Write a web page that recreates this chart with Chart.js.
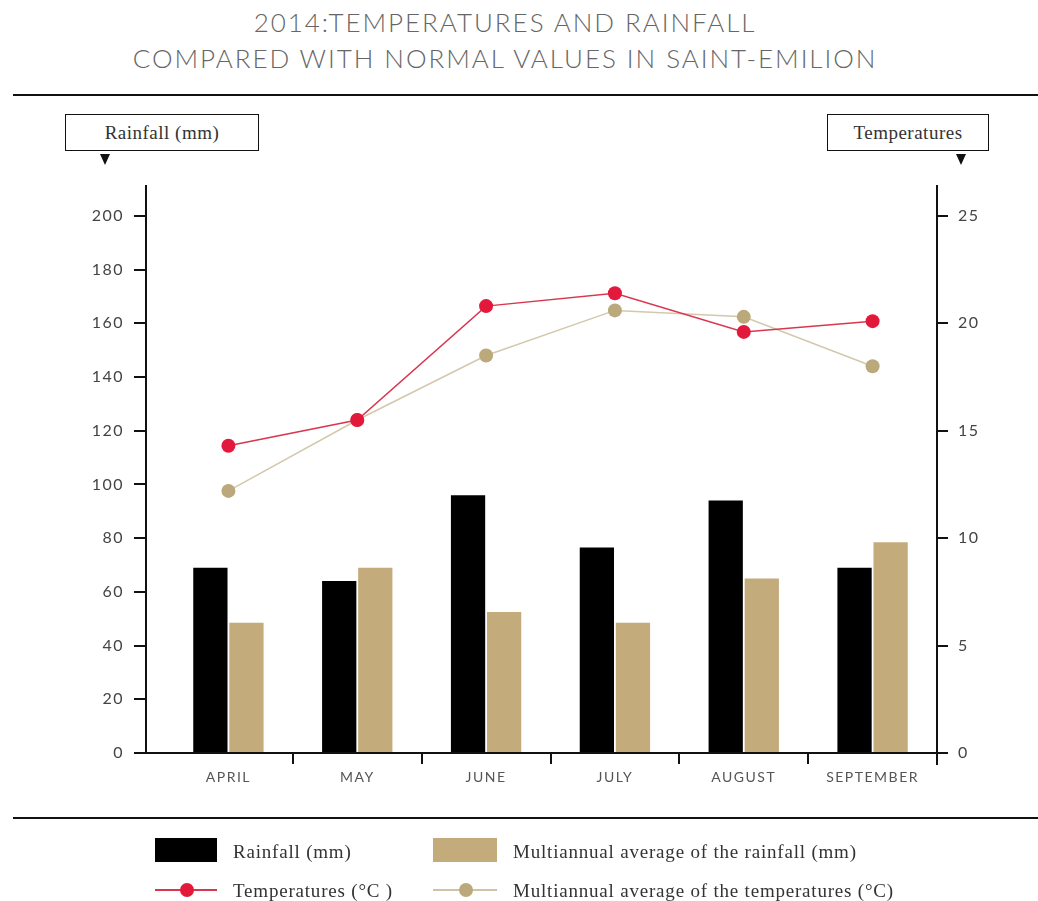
<!DOCTYPE html>
<html>
<head>
<meta charset="utf-8">
<script src="https://cdn.jsdelivr.net/npm/chart.js@4/dist/chart.umd.min.js"></script>
<style>
  body { margin: 0; background: #fff; }
  #page { position: relative; width: 1038px; height: 901px; overflow: hidden; }
  #title {
    position: absolute; top: 4px; left: 0; width: 1010px; text-align: center;
    font-family: Lato, "Open Sans", sans-serif; font-weight: 300; font-size: 26px;
    line-height: 36px; letter-spacing: 1.95px; color: #666;
  }
  .rule { position: absolute; left: 13px; right: 0; height: 2px; background: #111; }
  .box {
    position: absolute; top: 114px; height: 35px; border: 1.5px solid #111;
    font-family: "Liberation Serif", "Times New Roman", serif; font-size: 19px;
    letter-spacing: 0.5px; line-height: 35px; text-align: center; color: #333; background: #fff;
  }
  .tri {
    position: absolute; top: 154px; width: 0; height: 0;
    border-left: 5px solid transparent; border-right: 5px solid transparent;
    border-top: 11px solid #111;
  }
  #c { position: absolute; left: 0; top: 0; }
  .leg {
    position: absolute; font-family: "Liberation Serif", "Times New Roman", serif;
    font-size: 19px; letter-spacing: 0.8px; line-height: 22px; color: #333;
  }
  .sw { position: absolute; }
</style>
</head>
<body>
<div id="page">
  <div id="title">2014:TEMPERATURES AND RAINFALL<br>COMPARED WITH NORMAL VALUES IN SAINT-EMILION</div>
  <div class="rule" style="top:94px"></div>
  <div class="box" style="left:65px; width:192px">Rainfall (mm)</div>
  <div class="tri" style="left:100px"></div>
  <div class="box" style="left:827px; width:160px">Temperatures</div>
  <div class="tri" style="left:956px"></div>

  <canvas id="c" width="1038" height="901"></canvas>

  <div class="rule" style="top:817px"></div>
  <div class="sw" style="left:155px; top:838px; width:62px; height:24px; background:#000"></div>
  <div class="leg" style="left:233px; top:841px">Rainfall (mm)</div>
  <div class="sw" style="left:433px; top:838px; width:64px; height:24px; background:#c4ab7c"></div>
  <div class="leg" style="left:513px; top:841px">Multiannual average of the rainfall (mm)</div>
  <div class="sw" style="left:155px; top:889px; width:62px; height:2px; background:#d9364f"></div>
  <div class="sw" style="left:180px; top:883px; width:14px; height:14px; border-radius:50%; background:#e3193b"></div>
  <div class="leg" style="left:233px; top:880px">Temperatures (°C )</div>
  <div class="sw" style="left:433px; top:889px; width:64px; height:1.5px; background:#cfc3a5"></div>
  <div class="sw" style="left:459px; top:883px; width:14px; height:14px; border-radius:50%; background:#bba97c"></div>
  <div class="leg" style="left:513px; top:880px">Multiannual average of the temperatures (°C)</div>
</div>

<script>
const months = ['APRIL', 'MAY', 'JUNE', 'JULY', 'AUGUST', 'SEPTEMBER'];
const rainfall = [69, 64, 96, 76.5, 94, 69];
const rainfallAvg = [48.5, 69, 52.5, 48.5, 65, 78.5];
const temps = [14.3, 15.5, 20.8, 21.4, 19.6, 20.1];
const tempsAvg = [12.2, 15.5, 18.5, 20.6, 20.3, 18.0];
const rainTicks = [0, 20, 40, 60, 80, 100, 120, 140, 160, 180, 200];
const tempTicks = [0, 5, 10, 15, 20, 25];

// spaced out tick text like the original
const spacingPlugin = {
    id: 'spacing',
    beforeDraw(chart) { chart.ctx.letterSpacing = '1.5px'; },
    afterDraw(chart) { chart.ctx.letterSpacing = '0px'; }
};

// axis lines + little tick marks, drawn where the scales say
const axesPlugin = {
    id: 'axes',
    afterDatasetsDraw(chart) {
        const ctx = chart.ctx;
        const a = chart.chartArea;
        const x = chart.scales.x;
        const yl = chart.scales.y;
        const yr = chart.scales.y2;
        const leftX = a.left - 18;
        ctx.save();
        ctx.strokeStyle = '#111';
        ctx.lineWidth = 2;
        ctx.beginPath();
        // left axis
        ctx.moveTo(leftX, a.top);
        ctx.lineTo(leftX, a.bottom);
        yl.ticks.forEach(t => {
            const py = Math.round(yl.getPixelForValue(t.value));
            ctx.moveTo(leftX - 12, py);
            ctx.lineTo(leftX, py);
        });
        // right axis
        ctx.moveTo(a.right, a.top);
        ctx.lineTo(a.right, a.bottom + 12);
        yr.ticks.forEach(t => {
            const py = Math.round(yr.getPixelForValue(t.value));
            ctx.moveTo(a.right, py);
            ctx.lineTo(a.right + 11, py);
        });
        // x axis
        ctx.moveTo(leftX - 12, a.bottom);
        ctx.lineTo(a.right + 10, a.bottom);
        for (let i = 0; i < months.length - 1; i++) {
            const px = Math.round((x.getPixelForValue(i) + x.getPixelForValue(i + 1)) / 2);
            ctx.moveTo(px, a.bottom);
            ctx.lineTo(px, a.bottom + 11);
        }
        ctx.stroke();
        ctx.restore();
    }
};

new Chart(document.getElementById('c'), {
    type: 'bar',
    data: {
        labels: months,
        datasets: [{
            type: 'line',
            label: 'Temperatures (°C )',
            data: temps,
            yAxisID: 'y2',
            borderColor: '#d9364f',
            borderWidth: 1.5,
            backgroundColor: '#e3193b',
            pointBackgroundColor: '#e3193b',
            pointBorderWidth: 0,
            pointRadius: 7,
            tension: 0
        }, {
            type: 'line',
            label: 'Multiannual average of the temperatures (°C)',
            data: tempsAvg,
            yAxisID: 'y2',
            borderColor: '#d3c8ab',
            borderWidth: 1.5,
            backgroundColor: '#bba97c',
            pointBackgroundColor: '#bba97c',
            pointBorderWidth: 0,
            pointRadius: 7,
            tension: 0
        }, {
            label: 'Rainfall (mm)',
            data: rainfall,
            yAxisID: 'y',
            backgroundColor: '#000',
            categoryPercentage: 0.56,
            barPercentage: 0.95
        }, {
            label: 'Multiannual average of the rainfall (mm)',
            data: rainfallAvg,
            yAxisID: 'y',
            backgroundColor: '#c4ab7c',
            categoryPercentage: 0.56,
            barPercentage: 0.95
        }]
    },
    options: {
        responsive: false,
        animation: false,
        devicePixelRatio: 1,
        layout: { padding: { top: 185, left: 0, right: 0, bottom: 0 } },
        plugins: { legend: { display: false }, tooltip: { enabled: false } },
        scales: {
            x: {
                grid: { display: false, drawTicks: false },
                border: { display: false },
                ticks: { color: '#555', padding: 16, font: { family: 'Lato', size: 14 } },
                afterFit: (s) => { s.height = 148; }
            },
            y: {
                position: 'left',
                min: 0,
                max: 211.5,
                grid: { display: false, drawTicks: false },
                border: { display: false },
                afterBuildTicks: (s) => { s.ticks = rainTicks.map(v => ({ value: v })); },
                ticks: { color: '#444', padding: 40, font: { family: 'Lato', size: 16 } },
                afterFit: (s) => { s.width = 164; }
            },
            y2: {
                position: 'right',
                min: 0,
                max: 211.5 / 8,
                grid: { display: false, drawTicks: false },
                border: { display: false },
                afterBuildTicks: (s) => { s.ticks = tempTicks.map(v => ({ value: v })); },
                ticks: { color: '#444', padding: 21, font: { family: 'Lato', size: 16 } },
                afterFit: (s) => { s.width = 101; }
            }
        }
    },
    plugins: [spacingPlugin, axesPlugin]
});
</script>
</body>
</html>
